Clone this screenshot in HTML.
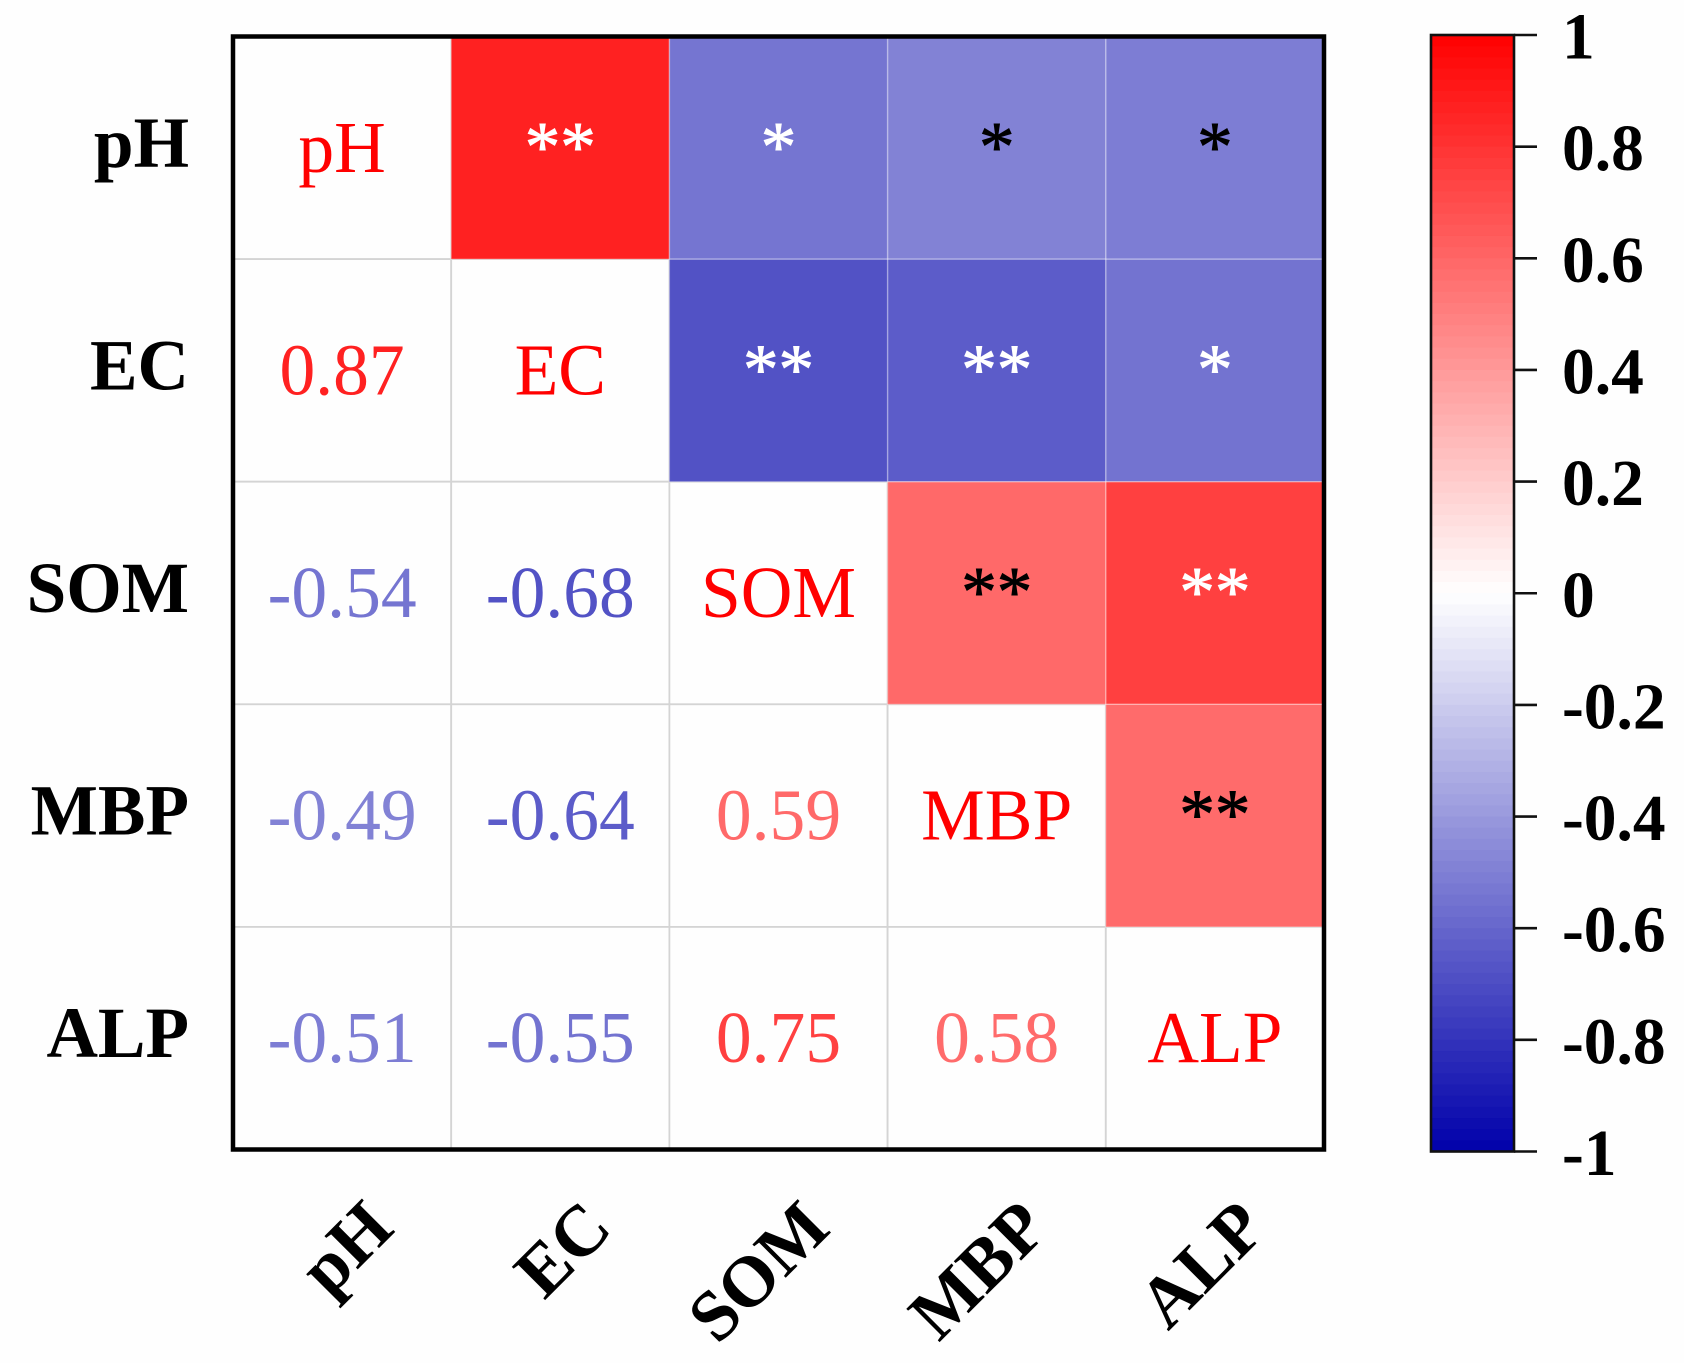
<!DOCTYPE html>
<html lang="en">
<head>
<meta charset="utf-8">
<title>Correlation heatmap</title>
<style>
html,body{margin:0;padding:0;background:#fefefe;width:1684px;height:1363px;overflow:hidden}
svg{display:block}
text{font-family:"Liberation Serif","Times New Roman",serif}
</style>
</head>
<body>
<svg id="chart" xmlns="http://www.w3.org/2000/svg" width="1684" height="1363" viewBox="0 0 1684 1363">
<rect x="0" y="0" width="1684" height="1363" fill="#fefefe"/>
<g id="cells"></g>
<g id="cellLabels"></g>
<rect x="233" y="36.5" width="1091" height="1113" fill="none" stroke="#000" stroke-width="4.5"/>
<g id="yAxis"></g>
<g id="xAxis"></g>
<g id="colorbar"></g>
</svg>
<script>
const variables = ["pH", "EC", "SOM", "MBP", "ALP"];
const correlations = [
  [1, 0.87, -0.54, -0.49, -0.51],
  [0.87, 1, -0.68, -0.64, -0.55],
  [-0.54, -0.68, 1, 0.59, 0.75],
  [-0.49, -0.64, 0.59, 1, 0.58],
  [-0.51, -0.55, 0.75, 0.58, 1]
];
const significance = [
  ["", "**", "*", "*", "*"],
  ["", "", "**", "**", "*"],
  ["", "", "", "**", "**"],
  ["", "", "", "", "**"],
  ["", "", "", "", ""]
];
const starColors = [
  ["", "white", "white", "black", "black"],
  ["", "", "white", "white", "white"],
  ["", "", "", "black", "white"],
  ["", "", "", "", "black"],
  ["", "", "", "", ""]
];
const colorbarTicks = [1, 0.8, 0.6, 0.4, 0.2, 0, -0.2, -0.4, -0.6, -0.8, -1];
const colorbarTickLabels = ["1", "0.8", "0.6", "0.4", "0.2", "0", "-0.2", "-0.4", "-0.6", "-0.8", "-1"];
const colorbarBandCount = 100;

const NS = "http://www.w3.org/2000/svg";
const plot = { left: 233, top: 36.5, width: 1091, height: 1113 };
const bar = { left: 1431, right: 1514, top: 35, bottom: 1151.5 };

function xBand(i) { return plot.left + i * plot.width / variables.length; }
function yBand(i) { return plot.top + i * plot.height / variables.length; }
function barY(v) { return bar.top + (1 - v) / 2 * (bar.bottom - bar.top); }
function colorOf(v) {
  const a = Math.min(1, Math.abs(v));
  if (v >= 0) {
    const g = Math.round(255 * (1 - a));
    return "rgb(255," + g + "," + g + ")";
  }
  const c = Math.round(255 * (1 - a));
  const b = Math.round(255 - 85 * a);
  return "rgb(" + c + "," + c + "," + b + ")";
}
function mk(parent, tag, attrs, txt) {
  const el = document.createElementNS(NS, tag);
  for (const k in attrs) el.setAttribute(k, attrs[k]);
  if (txt !== undefined) el.textContent = txt;
  parent.appendChild(el);
  return el;
}

const cellsG = document.getElementById("cells");
const labelsG = document.getElementById("cellLabels");
const xAxisG = document.getElementById("xAxis");
const yAxisG = document.getElementById("yAxis");
const barG = document.getElementById("colorbar");
const n = variables.length;
const cw = plot.width / n;
const ch = plot.height / n;

// white cells (lower triangle and diagonal)
for (let r = 0; r < n; r++) {
  for (let c = 0; c <= r; c++) {
    const el = mk(cellsG, "rect", { x: xBand(c), y: yBand(r), width: cw, height: ch, fill: "#fefefe", stroke: "#d4d4d4", "stroke-width": 1.8 });
    
    
  }
}
// coloured cells (upper triangle)
for (let r = 0; r < n; r++) {
  for (let c = r + 1; c < n; c++) {
    const el = mk(cellsG, "rect", { x: xBand(c), y: yBand(r), width: cw, height: ch, fill: colorOf(correlations[r][c]) });
    
    
  }
}
// thin light separators between coloured cells
for (let r = 0; r < n; r++) {
  for (let c = r + 1; c < n; c++) {
    const el = mk(cellsG, "rect", { x: xBand(c), y: yBand(r), width: cw, height: ch, fill: "none", stroke: "rgba(255,255,255,0.25)", "stroke-width": 1.4 });
    
    
  }
}
// lower-triangle values, diagonal names, upper-triangle stars
for (let r = 0; r < n; r++) {
  for (let c = 0; c < n; c++) {
    const cx = xBand(c) + cw / 2;
    const cy = yBand(r) + ch / 2;
    if (c <= r) {
      const val = correlations[r][c];
      const isDiag = c === r;
      const label = isDiag ? variables[c] : val.toFixed(2);
      const t = mk(labelsG, "text", {
        transform: "translate(" + cx + "," + (cy + 24) + ") scale(0.98,1)",
        "text-anchor": "middle", "font-size": 73,
        fill: isDiag ? "#ff0000" : colorOf(val)
      }, label);
      
      
    } else if (significance[r][c]) {
      const fillColor = starColors[r][c] === "white" ? "#ffffff" : "#000000";
      const s = mk(labelsG, "text", {
        x: cx, y: cy + 22.5,
        "text-anchor": "middle", "font-size": 71,
        fill: fillColor, stroke: fillColor, "stroke-width": 0.9
      }, significance[r][c]);
      
      
    }
  }
}
// axes
variables.forEach(function (name, i) {
  const yt = mk(yAxisG, "text", {
    transform: "translate(189," + (yBand(i) + ch / 2 + 19) + ") scale(0.99,1)",
    "text-anchor": "end", "font-size": 72, "font-weight": "bold", fill: "#000"
  }, name);
  
  
  const xt = mk(xAxisG, "text", {
    transform: "translate(" + (xBand(i) + cw / 2 + 54) + ",1231) rotate(-45) scale(0.99,1)",
    "text-anchor": "end", "font-size": 72, "font-weight": "bold", fill: "#000"
  }, name);
  
  
});
// colorbar
for (let i = 0; i < colorbarBandCount; i++) {
  const hi = 1 - 2 * i / colorbarBandCount;
  const lo = 1 - 2 * (i + 1) / colorbarBandCount;
  const band = mk(barG, "rect", { x: bar.left, y: barY(hi), width: bar.right - bar.left, height: barY(lo) - barY(hi) + 0.5, fill: colorOf((hi + lo) / 2) });
  
  
}
const frame = mk(barG, "rect", { x: bar.left, y: bar.top, width: bar.right - bar.left, height: bar.bottom - bar.top, fill: "none", stroke: "#111", "stroke-width": 2.6 });


colorbarTicks.forEach(function (v, i) {
  const y = barY(v);
  const tick = mk(barG, "line", { x1: bar.right, x2: 1537, y1: y, y2: y, stroke: "#111", "stroke-width": 2.6 });
  
  
  const lab = mk(barG, "text", { x: 1562, y: y + 23.5, "font-size": 65.5, "font-weight": "bold", fill: "#000" }, colorbarTickLabels[i]);
  
  
});
</script>
</body>
</html>
